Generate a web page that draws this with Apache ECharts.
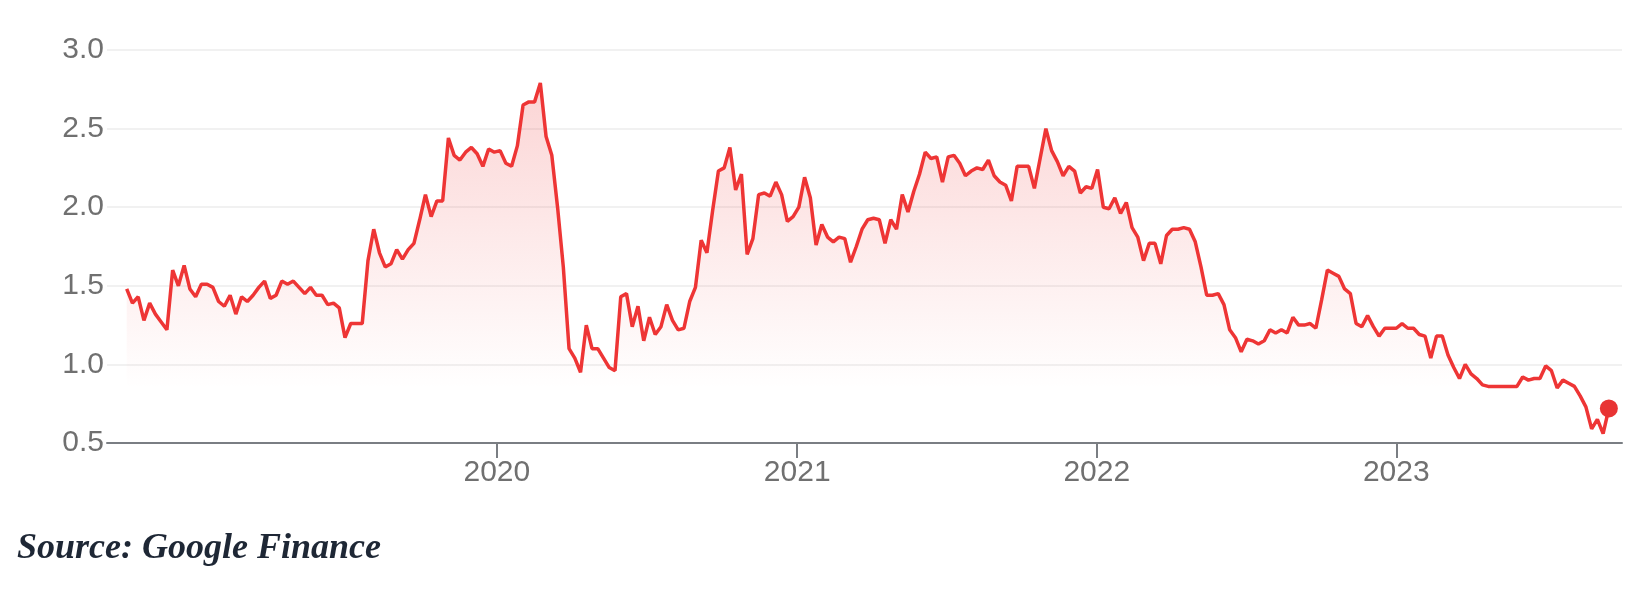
<!DOCTYPE html>
<html>
<head>
<meta charset="utf-8">
<script src="https://cdn.jsdelivr.net/npm/echarts@6/dist/echarts.min.js"></script>
<style>
  html, body { margin: 0; padding: 0; background: #fff; }
  #price-chart { width: 1650px; height: 592px; }
</style>
</head>
<body>
<div id="price-chart"></div>
<script>
// weekly closes, first week starts 2018-10-07
var firstWeek = Date.UTC(2018, 9, 7);
var prices2018 = [1.48, 1.39, 1.43, 1.28, 1.39, 1.32, 1.27, 1.22, 1.60, 1.50, 1.63, 1.48, 1.43, 1.51, 1.51, 1.49, 1.40, 1.37, 1.44, 1.32, 1.43, 1.40, 1.44, 1.49, 1.53, 1.42, 1.44, 1.53, 1.51, 1.53, 1.49, 1.45, 1.49, 1.44, 1.44, 1.38, 1.39, 1.36, 1.17, 1.26, 1.26, 1.26, 1.66, 1.86, 1.71, 1.62, 1.64, 1.73, 1.67, 1.73, 1.77, 1.92];
var prices2019 = [2.08, 1.94, 2.04, 2.04, 2.44, 2.33, 2.30, 2.35, 2.38, 2.34, 2.26, 2.37, 2.35, 2.36, 2.28, 2.26, 2.39, 2.65, 2.67, 2.67, 2.79, 2.45, 2.33, 2.00, 1.62, 1.10, 1.04, 0.95, 1.25, 1.10, 1.10, 1.04, 0.98, 0.96, 1.43, 1.45, 1.24, 1.37, 1.15, 1.30, 1.19, 1.24, 1.38, 1.28, 1.22, 1.23, 1.40, 1.49, 1.79, 1.71];
var prices2020 = [1.98, 2.23, 2.25, 2.38, 2.11, 2.21, 1.70, 1.80, 2.08, 2.09, 2.07, 2.16, 2.08, 1.91, 1.94, 2.00, 2.19, 2.06, 1.76, 1.89, 1.81, 1.78, 1.81, 1.80, 1.65, 1.75, 1.86, 1.92, 1.93, 1.92, 1.77, 1.92, 1.86, 2.08, 1.97, 2.10, 2.21, 2.35, 2.31, 2.32, 2.16, 2.32, 2.33, 2.28, 2.20, 2.23, 2.25, 2.24, 2.30, 2.20, 2.16, 2.14];
var prices2021 = [2.04, 2.26, 2.26, 2.26, 2.12, 2.31, 2.50, 2.36, 2.29, 2.20, 2.26, 2.23, 2.09, 2.13, 2.12, 2.24, 2.00, 1.99, 2.06, 1.96, 2.03, 1.87, 1.81, 1.66, 1.77, 1.77, 1.64, 1.82, 1.86, 1.86, 1.87, 1.86, 1.78, 1.62, 1.44, 1.44, 1.45, 1.38, 1.22, 1.17, 1.08, 1.16, 1.15, 1.13, 1.15, 1.22, 1.20, 1.22, 1.20, 1.30, 1.25, 1.25];
var prices2022 = [1.26, 1.23, 1.41, 1.60, 1.58, 1.56, 1.48, 1.45, 1.26, 1.24, 1.31, 1.24, 1.18, 1.23, 1.23, 1.23, 1.26, 1.23, 1.23, 1.19, 1.18, 1.04, 1.18, 1.18, 1.06, 0.98, 0.91, 1.00, 0.94, 0.91, 0.87, 0.86, 0.86, 0.86, 0.86, 0.86, 0.86, 0.92, 0.90, 0.91, 0.91, 0.99, 0.96, 0.85, 0.90, 0.88, 0.86, 0.80, 0.73, 0.59, 0.65, 0.56, 0.72];
var yearTicks = [2020, 2021, 2022, 2023];
var yTicks = [0.5, 1.0, 1.5, 2.0, 2.5, 3.0];

var prices = [].concat(prices2018, prices2019, prices2020, prices2021, prices2022);
var seriesData = prices.map(function (v, i) {
    return [firstWeek + i * 7 * 86400000, v];
});
var lastPoint = seriesData[seriesData.length - 1];
var tickTimes = yearTicks.map(function (y) { return Date.UTC(y, 0, 1); });

var chart = echarts.init(document.getElementById('price-chart'));
var option = {
    animation: false,
    backgroundColor: '#fff',
    grid: {
        left: 107,
        right: 28,
        top: 50,
        bottom: 149
    },
    xAxis: {
        type: 'value',   // timestamps in ms
        min: Date.UTC(2018, 8, 13),
        max: Date.UTC(2023, 9, 3),
        axisLine: {
            lineStyle: { color: '#7a7e83', width: 2 }
        },
        axisTick: {
            show: true,
            length: 15,
            customValues: tickTimes,
            lineStyle: { color: '#7a7e83', width: 2 }
        },
        axisLabel: {
            customValues: tickTimes,
            margin: 15,
            color: '#707070',
            fontSize: 30,
            fontFamily: 'Liberation Sans',
            formatter: function (v) { return String(new Date(v).getUTCFullYear()); }
        },
        splitLine: { show: false }
    },
    yAxis: {
        type: 'value',
        min: yTicks[0],
        max: yTicks[yTicks.length - 1],
        interval: 0.5,
        axisLine: { show: false },
        axisTick: { show: false },
        axisLabel: {
            margin: 3,
            color: '#707070',
            fontSize: 30,
            fontFamily: 'Liberation Sans',
            formatter: function (v) { return v.toFixed(1); }
        },
        splitLine: {
            lineStyle: { color: '#ededed', width: 1.5 }
        }
    },
    graphic: [{
        type: 'text',
        left: 17,
        top: 531,
        style: {
            text: 'Source: Google Finance',
            fill: '#1e2735',
            font: 'italic bold 36px "Liberation Serif"'
        }
    }],
    series: [{
        name: 'price',
        type: 'line',
        data: seriesData,
        showSymbol: false,
        lineStyle: { color: '#ee3535', width: 3.5 },
        itemStyle: { color: '#ee3535' },
        areaStyle: {
            color: {
                type: 'linear',
                x: 0, y: 0, x2: 0, y2: 1,
                colorStops: [
                    { offset: 0, color: 'rgba(238,53,53,0.30)' },
                    { offset: 0.85, color: 'rgba(238,53,53,0)' }
                ]
            }
        },
        z: 3
    }, {
        name: 'last',
        type: 'scatter',
        data: [lastPoint],
        symbolSize: 18,
        itemStyle: { color: '#e83434', opacity: 1 },
        z: 4
    }]
};
chart.setOption(option);
</script>
</body>
</html>
